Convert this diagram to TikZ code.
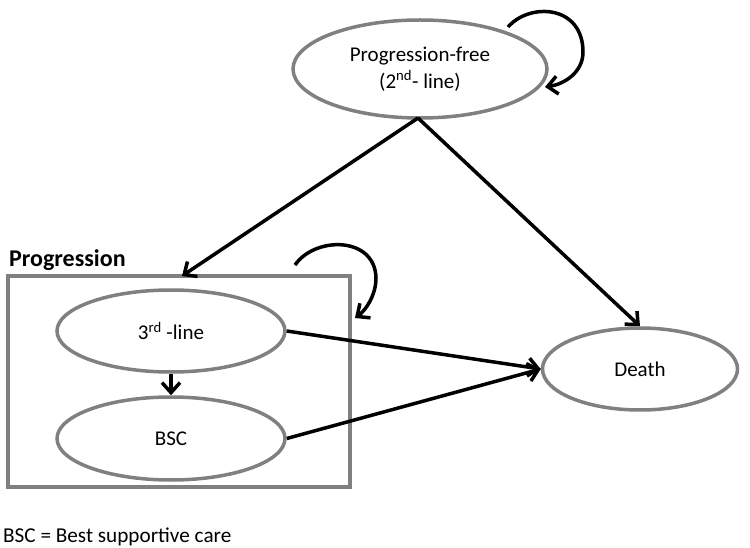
\documentclass[tikz,border=0pt]{standalone}
\usepackage{fontspec}
\setmainfont{Carlito}
\usetikzlibrary{arrows.meta,shapes.geometric}
\begin{document}
\begin{tikzpicture}[x=1pt,y=-1pt,
  state/.style={ellipse,draw=black!50,line width=3.5pt,fill=white,inner sep=0pt,font=\fontsize{21}{27}\selectfont,align=center},
  conn/.style={line width=3.5pt,-{Straight Barb[length=10pt,width=18pt,line width=3.5pt]}},
  lbl/.style={inner sep=0pt,anchor=west}]
\useasboundingbox (0,0) rectangle (750,548);
\node[state,minimum width=254pt,minimum height=98pt] (pf) at (420,69) {Progression-free\\(2\textsuperscript{nd}- line)};
\node[draw=black!50,line width=3.5pt,minimum width=342pt,minimum height=211pt,inner sep=0pt] (box) at (179,381.5) {};
\node[state,minimum width=228pt,minimum height=82pt] (third) at (171,331) {3\textsuperscript{rd} -line};
\node[state,minimum width=228pt,minimum height=83pt] (bsc) at (171,438.5) {BSC};
\node[state,minimum width=195pt,minimum height=82pt] (death) at (640,369) {Death};
\node[lbl,font=\fontsize{24}{28}\selectfont\bfseries] (plabel) at (9,260) {Progression};
\node[lbl,font=\fontsize{21.2}{25}\selectfont] (foot) at (3,537) {BSC = Best supportive care};
\coordinate (pfs) at (418,118);
\draw[conn] (pfs) -- (182,276) coordinate (boxtop);
\draw[conn] (pfs) -- (death.north);
\draw[conn] (third.east) -- (death.west);
\draw[conn] (bsc.east) -- (death.west);
\draw[conn] (third.south) -- (bsc.north);
\coordinate (l1s) at (508,27);
\coordinate (l1e) at (545,87);
\draw[conn] (l1s) .. controls (530,2) and (583,5) .. (583,52) .. controls (583,72) and (565,84) .. (l1e);
\coordinate (l2s) at (295,265);
\coordinate (l2e) at (355,318);
\draw[conn] (l2s) .. controls (315,236) and (375,236) .. (376,278) .. controls (376,295) and (366,310) .. (l2e);
\end{tikzpicture}
\end{document}
